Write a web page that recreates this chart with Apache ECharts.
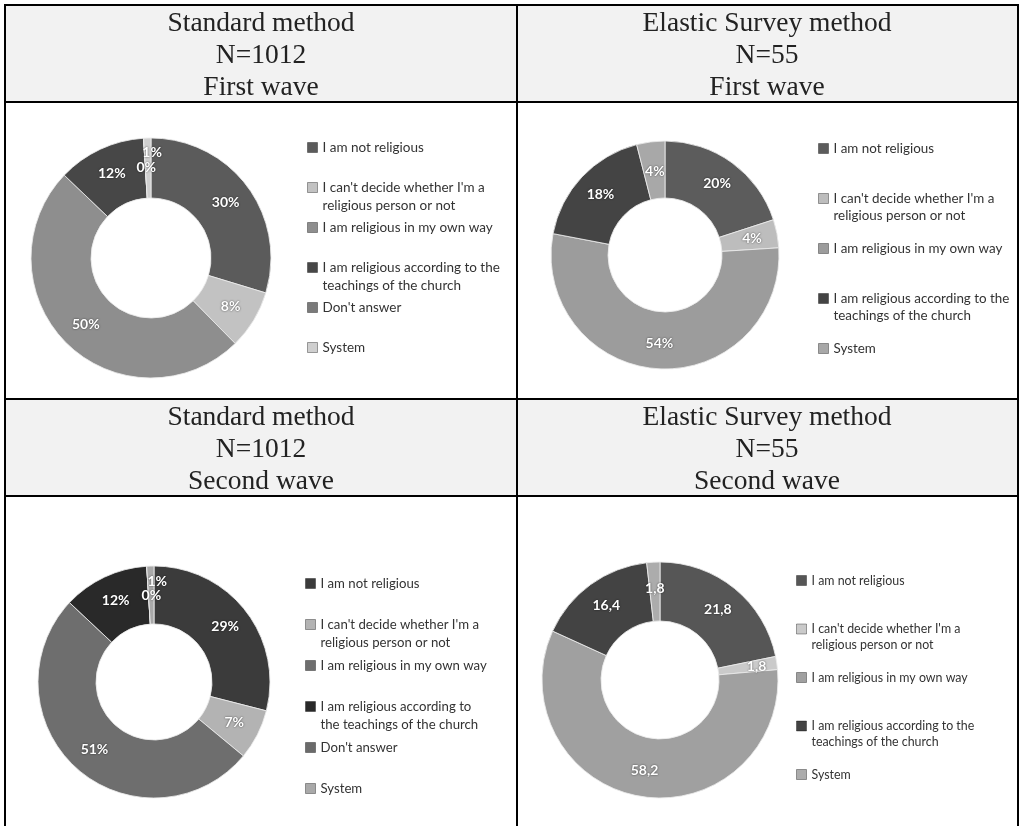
<!DOCTYPE html>
<html>
<head>
<meta charset="utf-8">
<title>Religiosity by survey method and wave</title>
<script src="https://cdn.jsdelivr.net/npm/echarts@6/dist/echarts.min.js"></script>
<style>
  html, body { margin: 0; padding: 0; background: #ffffff; }
  #chart { width: 1020px; height: 826px; }
</style>
</head>
<body>
<div id="chart"></div>
<script>
// ---- data ----
const CATS_STANDARD = [
  "I am not religious",
  "I can't decide whether I'm a religious person or not",
  "I am religious in my own way",
  "I am religious according to the teachings of the church",
  "Don't answer",
  "System"
];
const CATS_ELASTIC = [
  "I am not religious",
  "I can't decide whether I'm a religious person or not",
  "I am religious in my own way",
  "I am religious according to the teachings of the church",
  "System"
];
const STANDARD_WAVE1 = [30, 8, 50, 12, 0, 1];
const ELASTIC_WAVE1  = [20, 4, 54, 18, 4];
const STANDARD_WAVE2 = [29, 7, 51, 12, 0, 1];
const ELASTIC_WAVE2  = [21.8, 1.8, 58.2, 16.4, 1.8];

const TITLE_STANDARD_1 = "Standard method\nN=1012\nFirst wave";
const TITLE_ELASTIC_1  = "Elastic Survey method\nN=55\nFirst wave";
const TITLE_STANDARD_2 = "Standard method\nN=1012\nSecond wave";
const TITLE_ELASTIC_2  = "Elastic Survey method\nN=55\nSecond wave";

// legend line breaks
const WRAP_A = {
  "I can't decide whether I'm a religious person or not": "I can't decide whether I'm a\nreligious person or not",
  "I am religious according to the teachings of the church": "I am religious according to the\nteachings of the church"
};
const WRAP_B = {
  "I can't decide whether I'm a religious person or not": "I can't decide whether I'm a\nreligious person or not",
  "I am religious according to the teachings of the church": "I am religious according to\nthe teachings of the church"
};

const pct = v => v + '%';
const comma = v => String(v).replace('.', ',');

// ---- panel styling / layout ----
const panels = [
  {
    cats: CATS_STANDARD, values: STANDARD_WAVE1, fmt: pct, wrap: WRAP_A,
    center: [151, 258], radius: [60, 120],
    colors: ['#5b5b5b', '#c2c2c2', '#8e8e8e', '#474747', '#7a7a7a', '#cfcfcf'],
    labelOffsets: { 4: [1, 2], 5: [4, -13] },
    legend: { left: 307, top: 138, lh: 18, gap: 3, fs: 13.5 }
  },
  {
    cats: CATS_ELASTIC, values: ELASTIC_WAVE1, fmt: pct, wrap: WRAP_A,
    center: [665, 255], radius: [57, 114],
    colors: ['#5c5c5c', '#bdbdbd', '#9c9c9c', '#444444', '#a8a8a8'],
    labelOffsets: { 4: [1, 4] },
    legend: { left: 818, top: 139.5, lh: 17, gap: 15, fs: 13.4 }
  },
  {
    cats: CATS_STANDARD, values: STANDARD_WAVE2, fmt: pct, wrap: WRAP_B,
    center: [154, 682], radius: [58, 116],
    colors: ['#3b3b3b', '#b3b3b3', '#6e6e6e', '#292929', '#6a6a6a', '#a9a9a9'],
    labelOffsets: { 4: [3, 3], 5: [6, -11] },
    legend: { left: 305, top: 574, lh: 18, gap: 4, fs: 13.2 }
  },
  {
    cats: CATS_ELASTIC, values: ELASTIC_WAVE2, fmt: comma, wrap: WRAP_A,
    center: [660, 680], radius: [59, 118],
    colors: ['#565656', '#cacaca', '#a0a0a0', '#434343', '#acacac'],
    labelOffsets: { 1: [6, 0] },
    legend: { left: 796, top: 572, lh: 16, gap: 15.5, fs: 12.4 }
  }
];

function legendIcon(lh) {
  // square aligned with the first text line inside a box two lines tall
  const y = lh / 2 - 5;
  return 'path://M0,0M0,' + (2 * lh) + 'M0,' + y + 'h10v10h-10z';
}

const series = panels.map(p => ({
  type: 'pie',
  center: p.center,
  radius: p.radius,
  startAngle: 90,
  clockwise: true,
  avoidLabelOverlap: false,
  minShowLabelAngle: 0,
  labelLayout: { hideOverlap: false },
  silent: true,
  animation: false,
  itemStyle: { borderColor: 'rgba(235,235,235,0.85)', borderWidth: 1 },
  label: {
    show: true,
    position: 'inside',
    color: '#ffffff',
    fontFamily: 'Lato',
    fontWeight: 'bold',
    fontSize: 14,
    textShadowColor: 'rgba(0,0,0,0.65)',
    textShadowBlur: 2,
    formatter: params => p.fmt(params.value)
  },
  labelLine: { show: false },
  emphasis: { disabled: true },
  data: p.cats.map((c, j) => {
    const item = { name: c, value: p.values[j], itemStyle: { color: p.colors[j] } };
    if (p.labelOffsets[j]) item.label = { offset: p.labelOffsets[j] };
    return item;
  })
}));

const legends = panels.map(p => ({
  orient: 'vertical',
  left: p.legend.left,
  top: p.legend.top,
  padding: 0,
  itemWidth: 10,
  itemHeight: 2 * p.legend.lh,
  itemGap: p.legend.gap,
  icon: legendIcon(p.legend.lh),
  selectedMode: false,
  itemStyle: { borderColor: 'rgba(0,0,0,0.35)', borderWidth: 1 },
  textStyle: { fontFamily: 'Lato', fontSize: p.legend.fs, color: '#333333', lineHeight: p.legend.lh },
  formatter: name => {
    const t = p.wrap[name] || name;
    return t.indexOf('\n') >= 0 ? t : t + '\n ';
  },
  data: p.cats.map((c, j) => ({ name: c, itemStyle: { color: p.colors[j] } }))
}));

// ---- table frame and headings ----
const LINE = '#000000';
const HEAD_FILL = '#f2f2f2';
const headFont = '27.5px "Liberation Serif", "Times New Roman", serif';
const graphic = [
  { type: 'rect', shape: { x: 6, y: 6, width: 1011, height: 95 }, style: { fill: HEAD_FILL }, silent: true },
  { type: 'rect', shape: { x: 6, y: 400, width: 1011, height: 95 }, style: { fill: HEAD_FILL }, silent: true },
  { type: 'rect', shape: { x: 4, y: 4, width: 1015, height: 2 }, style: { fill: LINE }, silent: true },
  { type: 'rect', shape: { x: 4, y: 101, width: 1015, height: 2 }, style: { fill: LINE }, silent: true },
  { type: 'rect', shape: { x: 4, y: 398, width: 1015, height: 2 }, style: { fill: LINE }, silent: true },
  { type: 'rect', shape: { x: 4, y: 495, width: 1015, height: 2 }, style: { fill: LINE }, silent: true },
  { type: 'rect', shape: { x: 4, y: 4, width: 2, height: 822 }, style: { fill: LINE }, silent: true },
  { type: 'rect', shape: { x: 516, y: 4, width: 2, height: 822 }, style: { fill: LINE }, silent: true },
  { type: 'rect', shape: { x: 1017, y: 4, width: 2, height: 822 }, style: { fill: LINE }, silent: true }
];
[[TITLE_STANDARD_1, 261, 8], [TITLE_ELASTIC_1, 767, 8], [TITLE_STANDARD_2, 261, 402], [TITLE_ELASTIC_2, 767, 402]]
  .forEach(([text, x, y]) => {
    graphic.push({
      type: 'text', x: x, y: y, silent: true,
      style: { text: text, font: headFont, fill: '#222222', textAlign: 'center', textVerticalAlign: 'top', lineHeight: 32 }
    });
  });

const chart = echarts.init(document.getElementById('chart'));
chart.setOption({
  animation: false,
  backgroundColor: '#ffffff',
  graphic: graphic,
  legend: legends,
  series: series
});
</script>
</body>
</html>
